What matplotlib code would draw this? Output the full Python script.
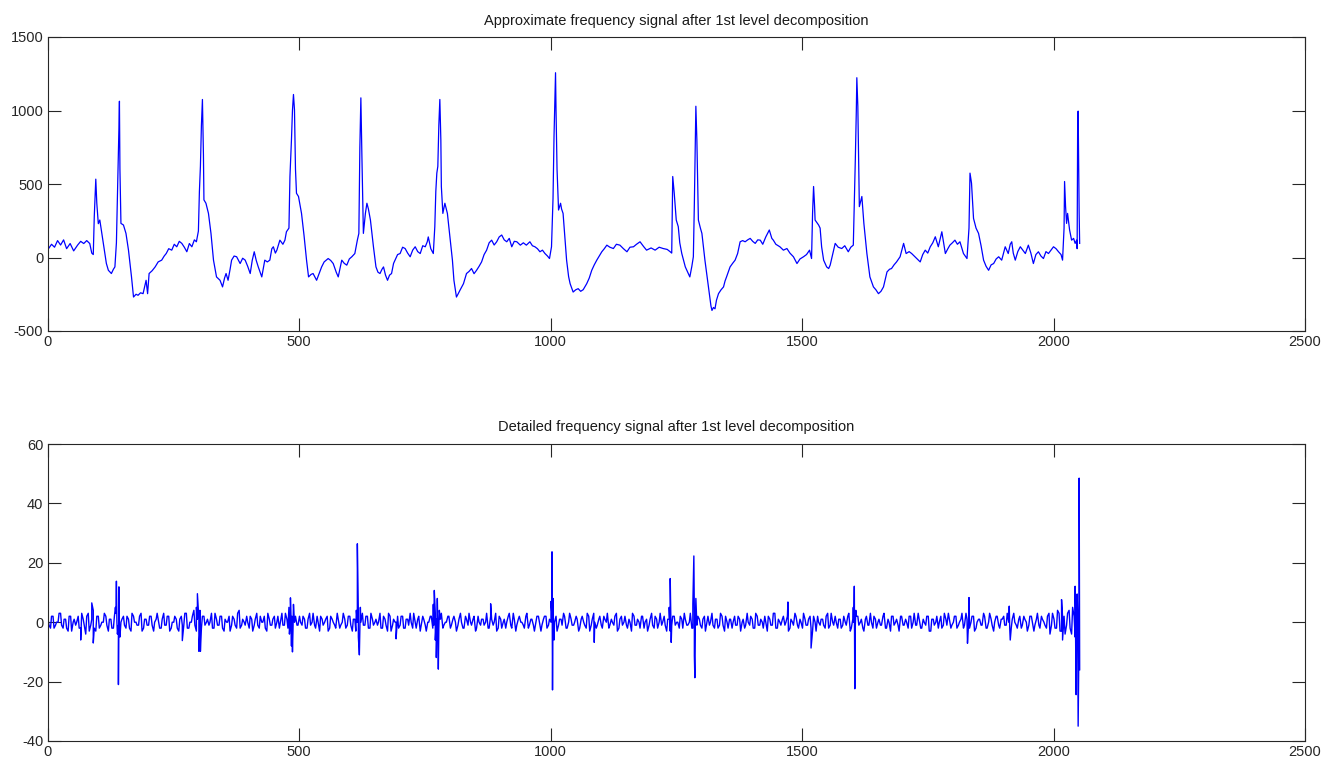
import numpy as np
import matplotlib
matplotlib.use("Agg")
import matplotlib.pyplot as plt

plt.rcParams['font.family'] = ['Liberation Sans', 'DejaVu Sans']
plt.rcParams['axes.unicode_minus'] = False

# ---------------- Approximate (top) signal: (sample index, value)
approx_x = [0, 8, 14, 20, 26, 32, 38, 45, 52, 60, 66, 72, 78, 84, 88, 91, 93, 96, 98, 101,
            104, 106, 112, 117, 121, 127, 131, 134, 137, 139, 141, 142, 143, 144, 146, 151, 156, 161, 167, 171,
            176, 180, 185, 190, 196, 199, 202, 208, 214, 220, 227, 232, 236, 241, 247, 252, 257, 262, 267, 272,
            277, 282, 287, 292, 296, 300, 302, 304, 306, 308, 310, 311, 315, 320, 325, 330, 336, 343, 348, 352,
            355, 359, 363, 366, 371, 376, 383, 388, 393, 398, 403, 407, 411, 415, 419, 426, 432, 437, 442, 446,
            449, 453, 456, 462, 468, 472, 475, 480, 482, 485, 487, 489, 491, 493, 495, 499, 505, 510, 515, 519,
            524, 528, 535, 540, 545, 550, 558, 563, 568, 574, 578, 585, 590, 595, 600, 605, 611, 616, 619, 621,
            623, 625, 628, 632, 635, 638, 642, 648, 653, 657, 661, 665, 668, 672, 676, 680, 684, 688, 691, 696,
            701, 706, 711, 716, 721, 726, 731, 736, 741, 746, 751, 755, 757, 762, 767, 770, 772, 774, 776, 778,
            780, 782, 783, 786, 790, 795, 800, 805, 808, 813, 816, 820, 827, 833, 838, 843, 848, 853, 858, 863,
            868, 873, 878, 883, 888, 893, 898, 903, 908, 913, 918, 923, 928, 933, 940, 946, 952, 959, 964, 969,
            974, 979, 984, 989, 994, 998, 1002, 1005, 1007, 1010, 1011, 1013, 1016, 1020, 1022, 1025, 1029, 1032, 1036, 1039,
            1045, 1050, 1055, 1060, 1065, 1072, 1077, 1082, 1087, 1092, 1097, 1102, 1107, 1112, 1118, 1125, 1131, 1138, 1145, 1152,
            1158, 1165, 1171, 1178, 1185, 1191, 1200, 1208, 1216, 1224, 1232, 1238, 1241, 1243, 1246, 1250, 1254, 1257, 1261, 1268,
            1277, 1281, 1284, 1286, 1288, 1289, 1291, 1294, 1298, 1301, 1307, 1314, 1319, 1321, 1324, 1327, 1330, 1334, 1339, 1344,
            1347, 1350, 1357, 1362, 1367, 1372, 1377, 1382, 1387, 1392, 1397, 1402, 1407, 1412, 1417, 1422, 1428, 1435, 1440, 1443,
            1448, 1456, 1463, 1470, 1476, 1483, 1490, 1496, 1503, 1509, 1515, 1519, 1521, 1523, 1525, 1526, 1533, 1536, 1539, 1543,
            1549, 1553, 1556, 1559, 1566, 1572, 1579, 1585, 1592, 1597, 1602, 1606, 1608, 1609, 1611, 1614, 1619, 1623, 1629, 1635,
            1642, 1647, 1652, 1657, 1662, 1669, 1674, 1678, 1683, 1688, 1695, 1702, 1707, 1713, 1718, 1723, 1728, 1735, 1740, 1745,
            1750, 1755, 1760, 1765, 1771, 1778, 1785, 1790, 1794, 1799, 1804, 1809, 1814, 1818, 1821, 1828, 1832, 1834, 1837, 1841,
            1846, 1851, 1856, 1861, 1866, 1871, 1876, 1881, 1886, 1891, 1897, 1904, 1910, 1914, 1917, 1920, 1924, 1929, 1934, 1939,
            1944, 1950, 1955, 1960, 1965, 1970, 1975, 1980, 1985, 1990, 1995, 2000, 2005, 2010, 2015, 2018, 2021, 2022, 2024, 2026,
            2028, 2032, 2036, 2040, 2043, 2046, 2047, 2048, 2049, 2050, 2051, 2052]
approx_y = [50, 90, 70, 115, 85, 120, 60, 95, 45, 85, 110, 95, 115, 95, 30, 20, 280, 533, 370, 230,
            255, 210, 80, -40, -87, -109, -80, -64, 100, 400, 710, 880, 1063, 600, 232, 221, 164, 50, -132, -269,
            -250, -257, -240, -246, -155, -246, -109, -90, -64, -30, -18, 10, 27, 60, 50, 90, 73, 110, 96, 70,
            39, 95, 73, 120, 107, 180, 450, 620, 900, 1075, 700, 392, 369, 300, 164, -18, -132, -155, -200, -140,
            -109, -155, -80, -18, 10, 5, -41, -5, -18, -60, -109, -20, 39, -20, -64, -132, -18, -30, -18, 60,
            73, 30, 50, 118, 90, 118, 175, 200, 551, 800, 1000, 1109, 1006, 600, 437, 415, 300, 150, -18, -132,
            -115, -109, -155, -110, -64, -30, -7, -20, -41, -100, -132, -18, -40, -52, -10, 5, 27, 118, 164, 750,
            1086, 700, 164, 300, 369, 330, 255, 73, -64, -100, -109, -80, -64, -120, -155, -120, -109, -40, -18, 20,
            27, 70, 61, 30, 5, 50, 73, 40, 27, 80, 73, 107, 140, 60, 27, 210, 450, 574, 620, 900,
            1075, 800, 483, 300, 369, 300, 141, -18, -155, -269, -250, -223, -178, -109, -95, -75, -110, -87, -60, -30,
            20, 50, 100, 118, 85, 107, 140, 153, 120, 107, 130, 73, 110, 107, 84, 100, 84, 107, 80, 73,
            60, 39, 50, 27, 10, -7, 73, 400, 824, 1257, 1000, 600, 323, 369, 330, 300, 118, -18, -130, -178,
            -235, -220, -212, -230, -219, -178, -140, -87, -50, -18, 10, 39, 60, 84, 70, 61, 90, 84, 60, 39,
            70, 73, 90, 107, 75, 50, 65, 50, 70, 61, 55, 39, 30, 551, 437, 255, 210, 100, 27, -64,
            -132, -60, 5, 369, 800, 1029, 800, 255, 200, 164, -18, -200, -330, -360, -340, -349, -290, -246, -220, -200,
            -160, -132, -64, -40, -18, 27, 107, 115, 107, 120, 130, 110, 96, 120, 118, 90, 140, 187, 130, 118,
            90, 73, 50, 61, 30, 5, -41, -10, 5, 20, 50, -7, 300, 483, 350, 255, 221, 200, 73, -18,
            -64, -75, -52, -7, 96, 70, 61, 80, 39, 70, 84, 665, 1000, 1223, 1029, 346, 415, 232, 27, -132,
            -200, -220, -246, -230, -200, -98, -80, -75, -50, -30, 5, 96, 27, 40, 27, 10, -7, -30, 20, 50,
            30, 73, 100, 141, 73, 175, 27, 60, 84, 100, 118, 90, 107, 60, 27, -7, 200, 574, 506, 266,
            200, 164, 80, -18, -60, -87, -50, -41, -10, 5, -18, 73, 27, 90, 107, 30, -18, 40, 73, 50,
            27, 84, 30, -41, 20, 39, 10, -7, 40, 27, 50, 73, 60, 39, 20, -18, 200, 517, 346, 232,
            300, 187, 118, 130, 96, 118, 60, 893, 996, 642, 300, 96]

# ---------------- Detail (bottom) signal
# background fluctuation, one value every 5 samples starting at sample 1
detail_noise_a = [
    1, -2, 2, -1, 0, 3, -2, 1, -3, 2, 0, -1, 2, -2, 1, -4, 3, -1, 4, -3,
    2, -1, 0, 2, -3, 1, -2, 3, -1, 0, 2, -2, 1, -3, 2, 0, -1, 3, -2, 1,
    -1, 2, -3, 1, 0, -2, 3, -1, 2, -2, 0, 1, -3, 2, -1, 3, -2, 0, 4, -3,
    1, -2, 2, 0, -1, 3, -2, 1, -1, 2, -3, 0, 2, -1, 1, -2, 4, -1, 0, 2,
    -2, 1, -1, 3, -2, 0, 2, -3, 1, -1, 2, 0, -2, 3, -1, 1, -4, 2, 0, -1,
    2, -1, 1, -2, 3, 0, -1, 2, -3, 1, 0, 2, -2, 1, -1, 3, -2, 0, 1, -1,
    2, -3, 1, 0, -2, 3, -1, 2, -2, 1, 0, -1, 3, -2, 1, -3, 2, -1, 0, 2,
    -1, 2, -2, 1, 3, -2, 0, 1, -3, 2, -1, 0, 2, -2, 3, -1, 1, -2, 0, 2,
    -2, 1, 0, -1, 3, -2, 2, -1, 0, 1, -3, 2, -1, 1, 0, -2, 2, -1, 3, -2,
    1, 0, -2, 2, -1, 3, -3, 1, 0, -1, 2, -2, 1, -1, 0, 2, -3, 1, 2, -1,
    0, -2, 2, -1, 1, 3, -2, 0, 1, -1, 2, -3, 1, 0, -2, 2, -1, 3, -2, 1,
    -1, 2, 0, -2, 1, -1, 3, -2, 2, 0, -1, 1, -3, 2, -1, 0, 2, -2, 1, -1,
    3, -2, 1, 0, -1, 2, -3, 1, -1, 2, 0, -2, 1, 3, -1, 0, -2, 2, -1, 1,
    -2, 2, 0, -1, 3, -2, 1, -1, 2, -3, 0, 1, -2, 2, -1, 1, 0, -2, 3, -1,
    1, -2, 2, -1, 0, 2, -3, 1, -1, 3, -2, 0, 1, -1, 2, -2, 0, 3, -1, 1,
    -2, 1, -1, 2, -3, 0, 2, -1, 1, -2, 3, -1, 0, 2, -2, 1, -1, 0, 2, -3,
    1, -1, 2, 0, -2, 1, -1, 3, -2, 1, 0, -1, 2, -2, 1, -3, 2, 0, -1, 2,
    -1, 1, -2, 2, 0, -1, 3, -2, 1, -1, 2, -3, 1, 0, -2, 2, -1, 1, 3, -2,
    0, 2, -1, 1, -2, 3, -1, 0, 2, -2, 1, -1, 3, -2, 0, 1, -3, 2, -1, 1,
    2, -1, 0, -2, 3, -1, 1, -2, 2, 0, -1, 2, -3, 1, -1, 2, 0, -2, 3, -1,
    1, -2, 3, -3, 2, -1, 4, -4, 2, 3, 1]
# background fluctuation, one value every 5 samples starting at sample 3
detail_noise_b = [
    -1, 2, -2, 0, 3, -1, 1, -2, 2, -3, 1, 0, -2, 3, -1, 2, -3, 1, -2, 2,
    -2, 0, 3, -1, 1, -2, 2, 0, -3, 1, -1, 2, -2, 3, 0, -1, 2, -3, 1, -1,
    2, -1, 0, 3, -2, 1, -1, 2, -3, 0, 2, -2, 1, -1, 3, -2, 0, 2, -1, 1,
    -3, 2, -1, 1, 0, -2, 3, -1, 2, -2, 1, 0, -3, 2, -1, 3, -2, 1, -1, 0,
    2, -3, 1, -1, 2, 0, -2, 3, -1, 1, -2, 2, 0, -1, 3, -2, 1, -3, 2, -1,
    0, 2, -2, 1, -1, 3, -2, 0, 2, -1, 1, -3, 2, 0, -2, 1, -1, 3, -2, 2,
    -1, 1, -3, 2, 0, -1, 2, -2, 3, -1, 1, 0, -2, 2, -1, 3, -3, 1, 0, -2,
    2, -2, 1, -1, 0, 3, -2, 2, -1, 1, -3, 0, 2, -1, 1, -2, 3, -1, 0, 2,
    -1, 2, -3, 1, 0, -2, 1, 3, -1, 2, -2, 0, 1, -1, 3, -2, 1, 0, -3, 2,
    -2, 1, 0, 3, -2, 1, -1, 2, 0, -2, 3, -1, 1, -3, 2, 0, -1, 2, -2, 1,
    2, 0, -3, 1, -1, 2, -2, 3, -1, 0, 1, -2, 2, -1, 3, -3, 1, 0, -1, 2,
    -2, 1, 3, -1, 0, 2, -3, 1, -1, 2, -2, 0, 3, -1, 1, -2, 2, 0, -3, 1,
    -1, 2, -2, 3, 0, -1, 1, -3, 2, -1, 0, 2, -2, 1, -1, 3, -2, 0, 2, -1,
    1, -3, 2, 0, -1, 1, -2, 3, -1, 2, -2, 1, 0, -1, 2, -3, 1, -1, 0, 2,
    -2, 3, -1, 1, -2, 0, 2, -1, 3, -2, 1, -1, 2, 0, -3, 1, -1, 2, -2, 0,
    3, -1, 1, -2, 2, -3, 0, 1, -1, 2, -2, 3, -1, 0, 1, -2, 2, -1, 3, -2,
    0, 2, -1, 1, -3, 2, -1, 0, 2, -2, 1, -1, 3, -2, 0, 2, -1, 1, -3, 2,
    -1, 0, 2, -2, 3, -1, 1, -2, 0, 2, -3, 1, -1, 2, 0, -2, 3, -1, 1, -1,
    2, -2, 0, 3, -1, 1, -2, 2, -3, 0, 1, -1, 2, -2, 3, -1, 0, 2, -2, 1,
    -1, 3, -2, 1, 0, -2, 2, -1, 1, -3, 2, 0, -1, 3, -2, 1, -1, 2, -4, 3,
    -2, 4, -3, 2, -4, 3, -2, 5, -5, 3]
# spikes at the QRS complexes (sample index, value)
spike_x = [66, 88, 91, 135, 137, 139, 141, 142, 144, 268, 296, 298, 301, 303, 304, 480, 483, 485, 487, 489,
           614, 616, 618, 620, 622, 693, 767, 769, 771, 773, 775, 777, 779, 881, 1001, 1003, 1004, 1005, 1007, 1087,
           1236, 1238, 1240, 1283, 1285, 1286, 1287, 1289, 1472, 1518, 1602, 1604, 1605, 1607, 1829, 1832, 1912, 1914, 2016, 2018,
           2043, 2045, 2047, 2049, 2051, 2052]
spike_y = [-6, 6.5, -7, 5, 13.8, -4, -21, 11.9, -5, -6.2, 5, 9.6, -9.8, 4, -9.8, 5, 8.2, -8, -10, 6,
           4, 26.4, -5, -11, 5, -5.6, 6, 10.7, -6, -11.9, 8, -15.8, 4, 6.2, 7, 23.7, -22.8, 8, -6, -6.8,
           5, 14.7, -6.8, 6, 22.3, -11.3, -18.7, 8, 6.8, -8.7, 5, 12.1, -22.4, 4, -7.1, 8.3, 5.4, -6, 7.6, -6,
           12.1, -24.4, 9.5, -35, 48.5, -16]

titles = ["Approximate frequency signal after 1st level decomposition",
          "Detailed frequency signal after 1st level decomposition"]
x_ticks = [0, 500, 1000, 1500, 2000, 2500]
top_yticks = [-500, 0, 500, 1000, 1500]
bot_yticks = [-40, -20, 0, 20, 40, 60]

# merge detail background and spikes (sample index order)
xa = 1 + 5 * np.arange(len(detail_noise_a))
xb = 3 + 5 * np.arange(len(detail_noise_b))
dx = np.concatenate([xa, xb, np.array(spike_x)])
dy = np.concatenate([np.array(detail_noise_a, float), np.array(detail_noise_b, float),
                     np.array(spike_y, float)])
order = np.argsort(dx, kind="stable")
dx, dy = dx[order], dy[order]

W, H = 1341, 764
fig = plt.figure(figsize=(W / 100, H / 100), dpi=100)
left = 47.5 / W
width = (1305 - 47.5) / W
ax1 = fig.add_axes([left, 1 - 331 / H, width, (331 - 37) / H])
ax2 = fig.add_axes([left, 1 - 741 / H, width, (741 - 444) / H])

blue = (0.0, 0.0, 1.0)
ax1.plot(approx_x, approx_y, color=blue, lw=0.9)
ax2.plot(dx, dy, color=blue, lw=1.0)

for ax, title, yt in [(ax1, titles[0], top_yticks), (ax2, titles[1], bot_yticks)]:
    ax.set_xlim(0, 2500)
    ax.set_ylim(yt[0], yt[-1])
    ax.set_xticks(x_ticks)
    ax.set_yticks(yt)
    ax.tick_params(direction='in', length=9.5, width=0.8, top=True, right=True,
                   labelsize=10.5, colors='#262626', pad=3)
    for sp in ax.spines.values():
        sp.set_linewidth(0.8)
        sp.set_color('#262626')
    ax.set_title(title, fontsize=10.5, pad=9, color='#1a1a1a')

fig.savefig("out.png", dpi=100)
